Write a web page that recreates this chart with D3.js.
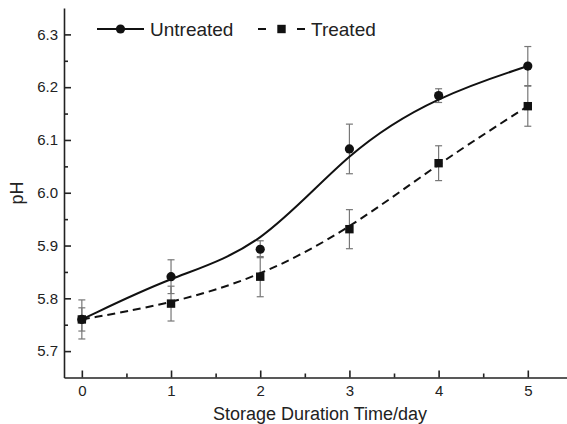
<!DOCTYPE html>
<html>
<head>
<meta charset="utf-8">
<script src="https://cdn.jsdelivr.net/npm/d3@7"></script>
<style>
  body { margin: 0; background: #fff; }
  svg { display: block; font-family: "Liberation Sans", Arial, sans-serif; }
  .axis path, .axis line { stroke: #222; stroke-width: 1.6; }
  .axis text { font-size: 15px; fill: #222; }
</style>
</head>
<body>
<script>
const W = 567, H = 424

// storage days and measured pH (mean, sd)
const days = [0, 1, 2, 3, 4, 5]
const untreated = [5.760, 5.841, 5.893, 6.083, 6.184, 6.240]
const untreatedErr = [0.037, 0.032, 0.016, 0.047, 0.013, 0.037]
const treated = [5.760, 5.790, 5.841, 5.931, 6.056, 6.164]
const treatedErr = [0.022, 0.033, 0.038, 0.037, 0.033, 0.038]

const xTicks = [0, 1, 2, 3, 4, 5]
const xMinor = [0.5, 1.5, 2.5, 3.5, 4.5]
const yTicks = [5.7, 5.8, 5.9, 6.0, 6.1, 6.2, 6.3]
const yMinor = [5.75, 5.85, 5.95, 6.05, 6.15, 6.25]

var svg = d3.select("body").append("svg")
    .attr("width", W)
    .attr("height", H)

var x = d3.scaleLinear().domain([-0.2, 5.5]).range([64, 572.4])
var y = d3.scaleLinear().domain([5.65, 6.35]).range([377.5, 8])

// axes: ticks point inward
svg.append("g").attr("class", "axis")
    .attr("transform", "translate(0,377.5)")
    .call(d3.axisBottom(x).tickValues(xMinor).tickSize(-4).tickFormat(""))
    .call(g => g.select(".domain").remove())
svg.append("g").attr("class", "axis")
    .attr("transform", "translate(0,377.5)")
    .call(d3.axisBottom(x).tickValues(xTicks).tickSizeInner(-7).tickSizeOuter(0)
        .tickPadding(8).tickFormat(d3.format("d")))

svg.append("g").attr("class", "axis")
    .attr("transform", "translate(64,0)")
    .call(d3.axisLeft(y).tickValues(yMinor).tickSize(-4).tickFormat(""))
    .call(g => g.select(".domain").remove())
svg.append("g").attr("class", "axis")
    .attr("transform", "translate(64,0)")
    .call(d3.axisLeft(y).tickValues(yTicks).tickSizeInner(-7).tickSizeOuter(0)
        .tickPadding(6).tickFormat(d3.format(".1f")))

// axis titles
svg.append("text")
    .attr("x", 320).attr("y", 420)
    .attr("text-anchor", "middle")
    .style("font-size", "18px").style("fill", "#222")
    .text("Storage Duration Time/day")
svg.append("text")
    .attr("transform", "translate(23,193) rotate(-90)")
    .attr("text-anchor", "middle")
    .style("font-size", "18px").style("fill", "#222")
    .text("pH")

var series = [
    {name: "Untreated", values: untreated, err: untreatedErr, dash: null, shape: "circle"},
    {name: "Treated", values: treated, err: treatedErr, dash: "8,5", shape: "square"}
]

// error bars
series.forEach(function(s){
    var g = svg.append("g").attr("stroke", "#777").attr("stroke-width", 1.2)
    days.forEach(function(d, i){
        var lo = y(s.values[i] - s.err[i]), hi = y(s.values[i] + s.err[i])
        g.append("line").attr("x1", x(d)).attr("x2", x(d)).attr("y1", lo).attr("y2", hi)
        g.append("line").attr("x1", x(d) - 3.5).attr("x2", x(d) + 3.5).attr("y1", lo).attr("y2", lo)
        g.append("line").attr("x1", x(d) - 3.5).attr("x2", x(d) + 3.5).attr("y1", hi).attr("y2", hi)
    })
})

// smoothed curves (B-spline)
var line = d3.line()
    .x((d, i) => x(days[i]))
    .y(d => y(d))
    .curve(d3.curveBasis)

series.forEach(function(s){
    svg.append("path")
        .attr("d", line(s.values))
        .attr("fill", "none")
        .attr("stroke", "#111")
        .attr("stroke-width", 2)
        .attr("stroke-dasharray", s.dash)
})

var drawMarker = function(g, shape, cx, cy){
    if (shape == "circle") {
        g.append("circle").attr("cx", cx).attr("cy", cy).attr("r", 4.6).attr("fill", "#111")
    } else {
        g.append("rect").attr("x", cx - 4.2).attr("y", cy - 4.2)
            .attr("width", 8.4).attr("height", 8.4).attr("fill", "#111")
    }
}

series.forEach(function(s){
    var g = svg.append("g")
    days.forEach((d, i) => drawMarker(g, s.shape, x(d), y(s.values[i])))
})

// legend
var legendX = [97, 258]
series.forEach(function(s, i){
    var g = svg.append("g").attr("transform", "translate(" + legendX[i] + ",29)")
    g.append("line").attr("x1", 0).attr("x2", 47).attr("y1", 0).attr("y2", 0)
        .attr("stroke", "#111").attr("stroke-width", 2)
        .attr("stroke-dasharray", s.dash ? "8,31" : null)
    drawMarker(g, s.shape, 23.5, 0)
    g.append("text").attr("x", 53).attr("y", 6.8)
        .style("font-size", "19px").style("fill", "#222")
        .text(s.name)
})
</script>
</body>
</html>
